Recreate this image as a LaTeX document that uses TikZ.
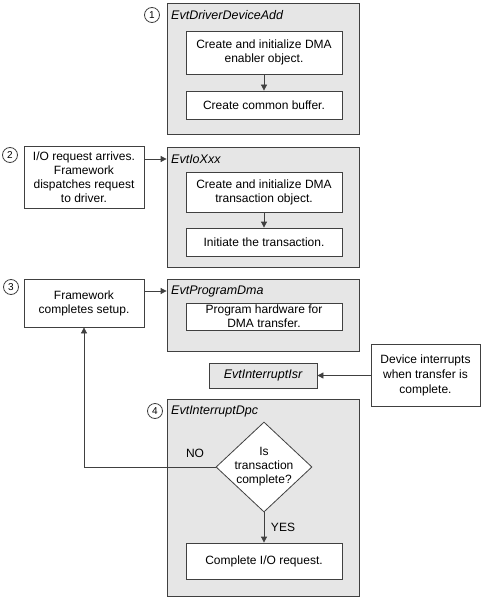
\documentclass[tikz,border=0pt]{standalone}
\usepackage{fontspec}
\setmainfont{Liberation Sans}
\usetikzlibrary{arrows.meta,shapes.geometric}
\definecolor{boxgray}{HTML}{E6E6E6}
\definecolor{edge}{HTML}{404040}
\tikzset{
  container/.style={draw=edge, fill=boxgray, line width=0.8pt, minimum width=192pt, inner sep=0pt},
  stepbox/.style={draw=edge, fill=white, line width=0.8pt, minimum width=156pt, inner sep=1pt, align=center, font=\fontsize{12}{14}\selectfont},
  sidebox/.style={draw=edge, fill=white, line width=0.8pt, minimum width=120pt, inner sep=1pt, align=center, font=\fontsize{12}{14}\selectfont},
  ttl/.style={anchor=west, inner sep=0pt, font=\fontsize{12.5}{15}\selectfont\itshape},
  num/.style={draw=edge, circle, line width=0.8pt, minimum size=15pt, inner sep=0pt, font=\fontsize{10}{12}\selectfont},
  lbl/.style={inner sep=0pt, font=\fontsize{12}{14}\selectfont},
  arr/.style={draw=edge, line width=0.8pt, -{Triangle[length=6pt,width=6pt]}},
}
\begin{document}
\begin{tikzpicture}[x=1pt,y=-1pt]
\useasboundingbox (0,0) rectangle (482,599);
% Box 1
\node[container, minimum height=131pt] (b1) at (263,68.5) {};
\node[ttl] (t1) at (171,15) {EvtDriverDeviceAdd};
\node[num] (c1) at (152,15) {1};
\node[stepbox, minimum height=43pt] (s1a) at (264,52.5) {Create and initialize DMA\\enabler object.};
\node[stepbox, minimum height=28pt] (s1b) at (264,105) {Create common buffer.};
\draw[arr] (s1a) -- (s1b);
% Box 2
\node[num] (c2) at (10,155) {2};
\node[sidebox, minimum height=62pt] (io) at (84,177) {I/O request arrives.\\Framework\\dispatches request\\to driver.};
\node[container, minimum height=120pt] (b2) at (263,207) {};
\node[ttl] (t2) at (171,159) {EvtIoXxx};
\node[stepbox, minimum height=40pt] (s2a) at (264,192) {Create and initialize DMA\\transaction object.};
\node[stepbox, minimum height=28pt] (s2b) at (264,242) {Initiate the transaction.};
\draw[arr] (s2a) -- (s2b);
\draw[arr] (io.east |- t2.west) -- (b2.west |- t2.west);
% Box 3
\node[num] (c3) at (11,287) {3};
\node[sidebox, minimum height=48pt] (fw) at (84,303) {Framework\\completes setup.};
\node[container, minimum height=72pt] (b3) at (263,315) {};
\node[ttl] (t3) at (171,291) {EvtProgramDma};
\node[stepbox, minimum height=27pt] (s3) at (264,316.5) {Program hardware for\\DMA transfer.};
\draw[arr] (fw.east |- t3.west) -- (b3.west |- t3.west);
% ISR
\node[draw=edge, fill=boxgray, line width=0.8pt, minimum width=108pt, minimum height=25pt, inner sep=0pt, font=\fontsize{12.5}{15}\selectfont\itshape] (isr) at (263,375.5) {EvtInterruptIsr};
\node[draw=edge, fill=white, line width=0.8pt, minimum width=109pt, minimum height=62pt, inner sep=1pt, align=center, font=\fontsize{12}{15}\selectfont] (dev) at (425.5,375) {Device interrupts\\when transfer is\\complete.};
\draw[arr] (dev.west |- isr.east) -- (isr.east);
% Box 4
\node[container, minimum height=197pt] (b4) at (263,497.5) {};
\node[num] (c4) at (155,411) {4};
\node[ttl] (t4) at (171,411) {EvtInterruptDpc};
\node[draw=edge, fill=white, line width=0.8pt, diamond, minimum width=96pt, minimum height=90pt, inner sep=0pt] (dia) at (264,467) {};
\node[lbl, align=center] (diat) at (dia.center) {Is\\transaction\\complete?};
\node[stepbox, minimum height=36pt] (done) at (264,561) {Complete I/O request.};
\draw[arr] (dia.south) -- (done.north);
\node[lbl] (yes) at (283,527) {YES};
\draw[arr] (dia.west) -| (fw.south);
\node[lbl] (no) at (195,453) {NO};
\end{tikzpicture}
\end{document}
